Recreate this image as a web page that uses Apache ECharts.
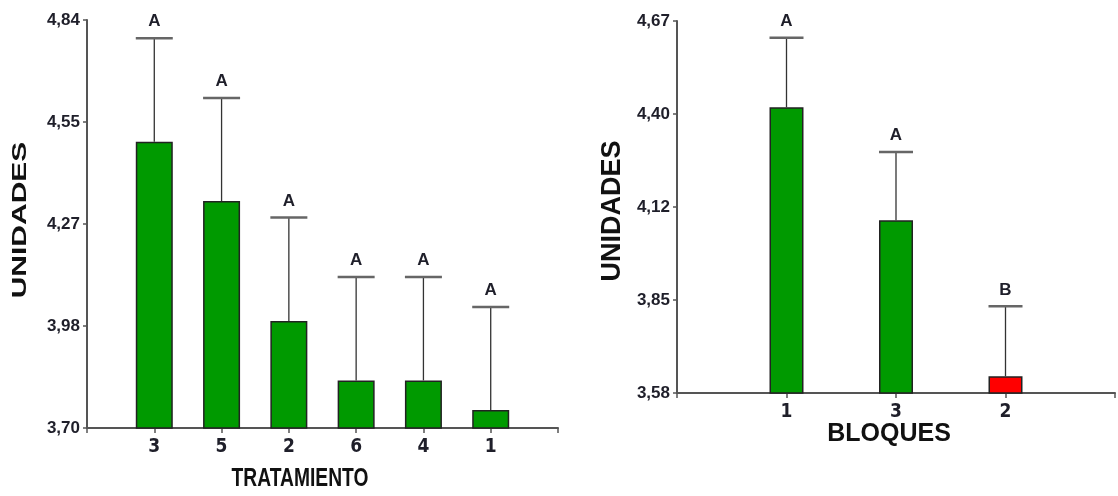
<!DOCTYPE html>
<html>
<head>
<meta charset="utf-8">
<script src="https://cdn.jsdelivr.net/npm/echarts@6/dist/echarts.min.js"></script>
<style>
html,body{margin:0;padding:0;background:#fff;}
#chart{width:1118px;height:496px;}
</style>
</head>
<body>
<div id="chart"></div>
<script>
// ---- Data: TRATAMIENTO (left panel) ----
const treatCats    = ['3', '5', '2', '6', '4', '1'];
const treatMeans   = [4.50, 4.334, 3.999, 3.833, 3.833, 3.750];
const treatErr     = [0.289, 0.288, 0.289, 0.289, 0.289, 0.288];
const treatLetters = ['A', 'A', 'A', 'A', 'A', 'A'];
const treatTicks   = ['3,70', '3,98', '4,27', '4,55', '4,84'];
const treatMin = 3.70, treatMax = 4.84, treatStep = 0.285;

// ---- Data: BLOQUES (right panel) ----
const blockCats    = ['1', '3', '2'];
const blockMeans   = [4.417, 4.086, 3.629];
const blockErr     = [0.204, 0.200, 0.205];
const blockLetters = ['A', 'A', 'B'];
const blockTicks   = ['3,58', '3,85', '4,12', '4,40', '4,67'];
const blockMin = 3.58, blockMax = 4.67, blockStep = 0.2725;

const GREEN = '#009a00', RED = '#ff0000';
const AXIS = '#555';
const TXT = '#1f1f2a';
const FONT = "'Liberation Sans', Arial, sans-serif";
const NARROW = "'Liberation Sans Narrow', 'DejaVu Sans Condensed', 'Liberation Sans', sans-serif";

const pad = arr => ['', ...arr, ''];
const padVals = arr => ['-', ...arr, '-'];

function tickFormatter(min, step, labels) {
  return v => {
    const i = Math.round((v - min) / step);
    return labels[i] !== undefined ? labels[i] : '';
  };
}

function errRenderer(letters, barW) {
  return function (params, api) {
    const x = api.value(0), m = api.value(1), e = api.value(2);
    const p0 = api.coord([x, m]);
    const p1 = api.coord([x, m + e]);
    const hw = barW / 2;
    return {
      type: 'group',
      children: [
        { type: 'line', shape: { x1: p0[0], y1: p0[1], x2: p1[0], y2: p1[1] },
          style: { stroke: '#333', lineWidth: 1.3 } },
        { type: 'line', shape: { x1: p1[0] - hw, y1: p1[1], x2: p1[0] + hw, y2: p1[1] },
          style: { stroke: '#666', lineWidth: 2.5 } },
        { type: 'text', x: p1[0], y: p1[1] - 8,
          style: { text: letters[params.dataIndex], fill: TXT, font: "bold 17px " + FONT,
                   textAlign: 'center', textVerticalAlign: 'bottom' } }
      ]
    };
  };
}

function yAxisCfg(gridIndex, min, max, step, labels) {
  return {
    type: 'value', gridIndex, min, max, interval: step,
    axisLine: { show: true, lineStyle: { color: AXIS, width: 2 } },
    axisTick: { show: true, length: 4, lineStyle: { color: AXIS, width: 1.5 } },
    splitLine: { show: false },
    axisLabel: { formatter: tickFormatter(min, step, labels), color: TXT,
                 fontFamily: FONT, fontWeight: 'bold', fontSize: 17, margin: 7 }
  };
}

function xAxisCfg(gridIndex, cats) {
  return {
    type: 'category', gridIndex, data: pad(cats), boundaryGap: false,
    axisLine: { show: true, lineStyle: { color: AXIS, width: 2 } },
    axisTick: { show: true, length: 5, interval: 0, lineStyle: { color: AXIS, width: 1.5 } },
    axisLabel: { interval: 0, color: TXT, fontFamily: NARROW, fontWeight: 'bold', fontSize: 19, margin: 10 },
    splitLine: { show: false }
  };
}

const chart = echarts.init(document.getElementById('chart'), null, { renderer: 'canvas' });

chart.setOption({
  backgroundColor: '#fff',
  animation: false,
  grid: [
    { left: 87, top: 20, width: 471, height: 408 },
    { left: 677, top: 21, width: 444, height: 372 }
  ],
  xAxis: [xAxisCfg(0, treatCats), xAxisCfg(1, blockCats)],
  yAxis: [
    yAxisCfg(0, treatMin, treatMax, treatStep, treatTicks),
    yAxisCfg(1, blockMin, blockMax, blockStep, blockTicks)
  ],
  series: [
    {
      type: 'bar', xAxisIndex: 0, yAxisIndex: 0, barWidth: 37,
      data: padVals(treatMeans),
      itemStyle: { color: GREEN, borderColor: '#222', borderWidth: 1.5 }
    },
    {
      type: 'bar', xAxisIndex: 1, yAxisIndex: 1, barWidth: 34,
      data: padVals(blockMeans.map((v, i) => ({
        value: v,
        itemStyle: { color: blockLetters[i] === 'B' ? RED : GREEN }
      }))),
      itemStyle: { color: GREEN, borderColor: '#222', borderWidth: 1.5 }
    },
    {
      type: 'custom', xAxisIndex: 0, yAxisIndex: 0, z: 5,
      renderItem: errRenderer(treatLetters, 37),
      encode: { x: 0, y: 1 },
      data: treatMeans.map((m, i) => [i + 1, m, treatErr[i]])
    },
    {
      type: 'custom', xAxisIndex: 1, yAxisIndex: 1, z: 5,
      renderItem: errRenderer(blockLetters, 34),
      encode: { x: 0, y: 1 },
      data: blockMeans.map((m, i) => [i + 1, m, blockErr[i]])
    }
  ],
  graphic: [
    { type: 'text', x: 20, y: 220, rotation: Math.PI / 2, scaleX: 1.5,
      style: { text: 'UNIDADES', font: 'bold 20px ' + FONT, fill: '#111',
               textAlign: 'center', textVerticalAlign: 'middle' } },
    { type: 'text', x: 300, y: 479, scaleX: 0.77,
      style: { text: 'TRATAMIENTO', font: 'bold 25px ' + FONT, fill: '#111',
               textAlign: 'center', textVerticalAlign: 'middle' } },
    { type: 'text', x: 613, y: 211, rotation: Math.PI / 2,
      style: { text: 'UNIDADES', font: 'bold 27px ' + FONT, fill: '#111',
               textAlign: 'center', textVerticalAlign: 'middle' } },
    { type: 'text', x: 889, y: 434,
      style: { text: 'BLOQUES', font: 'bold 25px ' + FONT, fill: '#111',
               textAlign: 'center', textVerticalAlign: 'middle' } }
  ]
});
</script>
</body>
</html>
